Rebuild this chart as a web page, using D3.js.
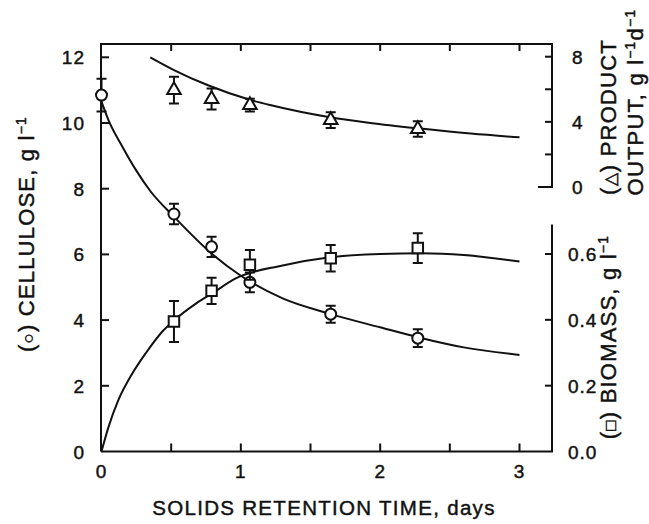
<!DOCTYPE html>
<html>
<head>
<meta charset="utf-8">
<script src="https://cdn.jsdelivr.net/npm/d3@7"></script>
<style>
  body { margin: 0; background: #fff; }
  svg text { font-family: "Liberation Sans", Arial, Helvetica, sans-serif; fill: #111; stroke: #111; stroke-width: 0.45px; }
</style>
</head>
<body>
<script>
// measured points (days)
const days = [0.52, 0.79, 1.065, 1.645, 2.27];
const celluloseDays = [0, 0.52, 0.79, 1.065, 1.645, 2.27];
const celluloseVals = [10.85, 7.23, 6.23, 5.15, 4.18, 3.45];
const celluloseErr = [0.5, 0.31, 0.31, 0.3, 0.26, 0.27];
const biomassVals = [0.395, 0.488, 0.567, 0.587, 0.618];
const biomassErr = [0.062, 0.04, 0.045, 0.04, 0.045];
const productVals = [5.95, 5.4, 5.03, 4.11, 3.56];
const productErr = [0.82, 0.64, 0.39, 0.48, 0.47];

// fitted curves
const celluloseFit = [[0, 10.65], [0.05, 10.09], [0.15, 9.28], [0.25, 8.55], [0.35, 7.93], [0.52, 7.15],
  [0.8, 5.99], [1.0, 5.35], [1.3, 4.66], [1.64, 4.19], [2.0, 3.78], [2.27, 3.48], [2.6, 3.17], [3.0, 2.94]];
const biomassFit = [[0, 0], [0.05, 0.074], [0.12, 0.155], [0.22, 0.236], [0.32, 0.3], [0.44, 0.366],
  [0.52, 0.398], [0.68, 0.45], [0.8, 0.482], [0.96, 0.525], [1.3, 0.565], [1.64, 0.59], [2.0, 0.6],
  [2.3, 0.602], [2.6, 0.597], [3.0, 0.577]];
const productFit = [[0.35, 7.96], [0.52, 7.18], [0.76, 6.26], [1.07, 5.34], [1.21, 5.03], [1.64, 4.28],
  [1.93, 3.93], [2.27, 3.6], [2.65, 3.28], [3.0, 3.05]];

const xTicks = [0, 1, 2, 3];
const xMinor = [0.5, 1, 1.5, 2, 2.5, 3];
const celluloseTicks = [0, 2, 4, 6, 8, 10, 12];
const biomassTicks = [0, 0.2, 0.4, 0.6];
const productTicks = [0, 2, 4, 6, 8];
const productLabels = [0, 4, 8];

const width = 649, height = 524;
const frameL = 101, frameR = 552, frameT = 44, frameB = 451.5;

const svg = d3.select("body").append("svg")
  .attr("width", width).attr("height", height)
  .attr("viewBox", `0 0 ${width} ${height}`);

const x = d3.scaleLinear().domain([0, 3]).range([101.5, 519.5]);
const yC = d3.scaleLinear().domain([0, 12]).range([frameB, 57.3]);
const yB = d3.scaleLinear().domain([0, 0.6]).range([frameB, 254]);
const yP = d3.scaleLinear().domain([0, 8]).range([187, 56.7]);

const ink = "#111";
const frame = svg.append("g").attr("stroke", ink).attr("stroke-width", 2).attr("fill", "none");

// frame lines
frame.append("path").attr("d", `M${frameL},${frameB}V${frameT}H${frameR}V${yP(0)}H${frameR - 14}`);
frame.append("path").attr("d", `M${frameL},${frameB}H${frameR}V${yB(0.69)}`);

// x ticks, bottom and top, pointing in
frame.selectAll(".xb").data(xMinor).join("line")
  .attr("x1", d => x(d)).attr("x2", d => x(d)).attr("y1", frameB).attr("y2", frameB - 8);
frame.selectAll(".xt").data(xMinor).join("line")
  .attr("x1", d => x(d)).attr("x2", d => x(d)).attr("y1", frameT).attr("y2", frameT + 7);

// left ticks
frame.selectAll(".yl").data(celluloseTicks.slice(1)).join("line")
  .attr("x1", frameL).attr("x2", frameL + 8).attr("y1", d => yC(d)).attr("y2", d => yC(d));
// right ticks
frame.selectAll(".yb").data(biomassTicks.slice(1)).join("line")
  .attr("x1", frameR).attr("x2", frameR - 7).attr("y1", d => yB(d)).attr("y2", d => yB(d));
frame.selectAll(".yp").data(productTicks.slice(1)).join("line")
  .attr("x1", frameR).attr("x2", frameR - 7).attr("y1", d => yP(d)).attr("y2", d => yP(d));

// tick labels
const labels = svg.append("g").style("font-size", "19px").style("letter-spacing", "1px");
labels.selectAll(".lx").data(xTicks).join("text")
  .attr("x", d => x(d)).attr("y", 478).attr("text-anchor", "middle").text(d => d);
labels.selectAll(".lc").data(celluloseTicks).join("text")
  .attr("x", 85).attr("y", d => yC(d) + 7).attr("text-anchor", "end").text(d => d);
labels.selectAll(".lb").data(biomassTicks).join("text")
  .attr("x", 568).attr("y", d => yB(d) + 7).text(d => d.toFixed(1));
labels.selectAll(".lp").data(productLabels).join("text")
  .attr("x", 572).attr("y", d => yP(d) + 7).text(d => d);

// axis titles
svg.append("text").attr("x", 324).attr("y", 515).attr("text-anchor", "middle")
  .style("font-size", "20.5px").style("letter-spacing", "1.3px")
  .text("SOLIDS RETENTION TIME, days");

const titles = svg.append("g").style("font-size", "22px").style("letter-spacing", "1.2px");
function title(tx, ty, parts) {
  const t = titles.append("text").attr("transform", `translate(${tx},${ty}) rotate(-90)`)
    .attr("text-anchor", "middle");
  parts.forEach(p => {
    const s = t.append("tspan").text(p.t);
    if (p.sup) s.attr("baseline-shift", "super").style("font-size", "14px");
    if (p.sym) s.style("font-size", "17px");
  });
}
title(34, 234, [{ t: "(" }, { t: "○", sym: 1 }, { t: ") CELLULOSE, g l" }, { t: "−1", sup: 1 }]);
title(616, 337, [{ t: "(" }, { t: "□", sym: 1 }, { t: ") BIOMASS, g l" }, { t: "−1", sup: 1 }]);
title(616, 117, [{ t: "(" }, { t: "△", sym: 1 }, { t: ") PRODUCT" }]);
title(643, 102, [{ t: "OUTPUT, g l" }, { t: "−1", sup: 1 }, { t: "d" }, { t: "−1", sup: 1 }]);

// fitted curves
const plot = svg.append("g").attr("fill", "none").attr("stroke", ink).attr("stroke-width", 2);
const curve = (ys) => d3.line().x(d => x(d[0])).y(d => ys(d[1])).curve(d3.curveMonotoneX);
plot.append("path").attr("d", curve(yC)(celluloseFit));
plot.append("path").attr("d", curve(yB)(biomassFit));
plot.append("path").attr("d", curve(yP)(productFit));

// error bars + markers
function series(xs, vals, errs, ys, shape) {
  const g = svg.append("g").attr("stroke", ink).attr("stroke-width", 2);
  const pts = xs.map((d, i) => ({ x: x(d), y: ys(vals[i]), lo: ys(vals[i] - errs[i]), hi: ys(vals[i] + errs[i]) }));
  g.selectAll(".eb").data(pts).join("path").attr("fill", "none")
    .attr("d", p => `M${p.x},${p.lo}V${p.hi}M${p.x - 5},${p.lo}h10M${p.x - 5},${p.hi}h10`);
  const sym = d3.symbol().type(shape).size(shape === d3.symbolTriangle ? 80 : shape === d3.symbolSquare ? 110 : 95);
  g.selectAll(".mk").data(pts).join("path").attr("fill", "#fff")
    .attr("transform", p => `translate(${p.x},${p.y})`).attr("d", sym);
}
series(celluloseDays, celluloseVals, celluloseErr, yC, d3.symbolCircle);
series(days, biomassVals, biomassErr, yB, d3.symbolSquare);
series(days, productVals, productErr, yP, d3.symbolTriangle);
</script>
</body>
</html>
